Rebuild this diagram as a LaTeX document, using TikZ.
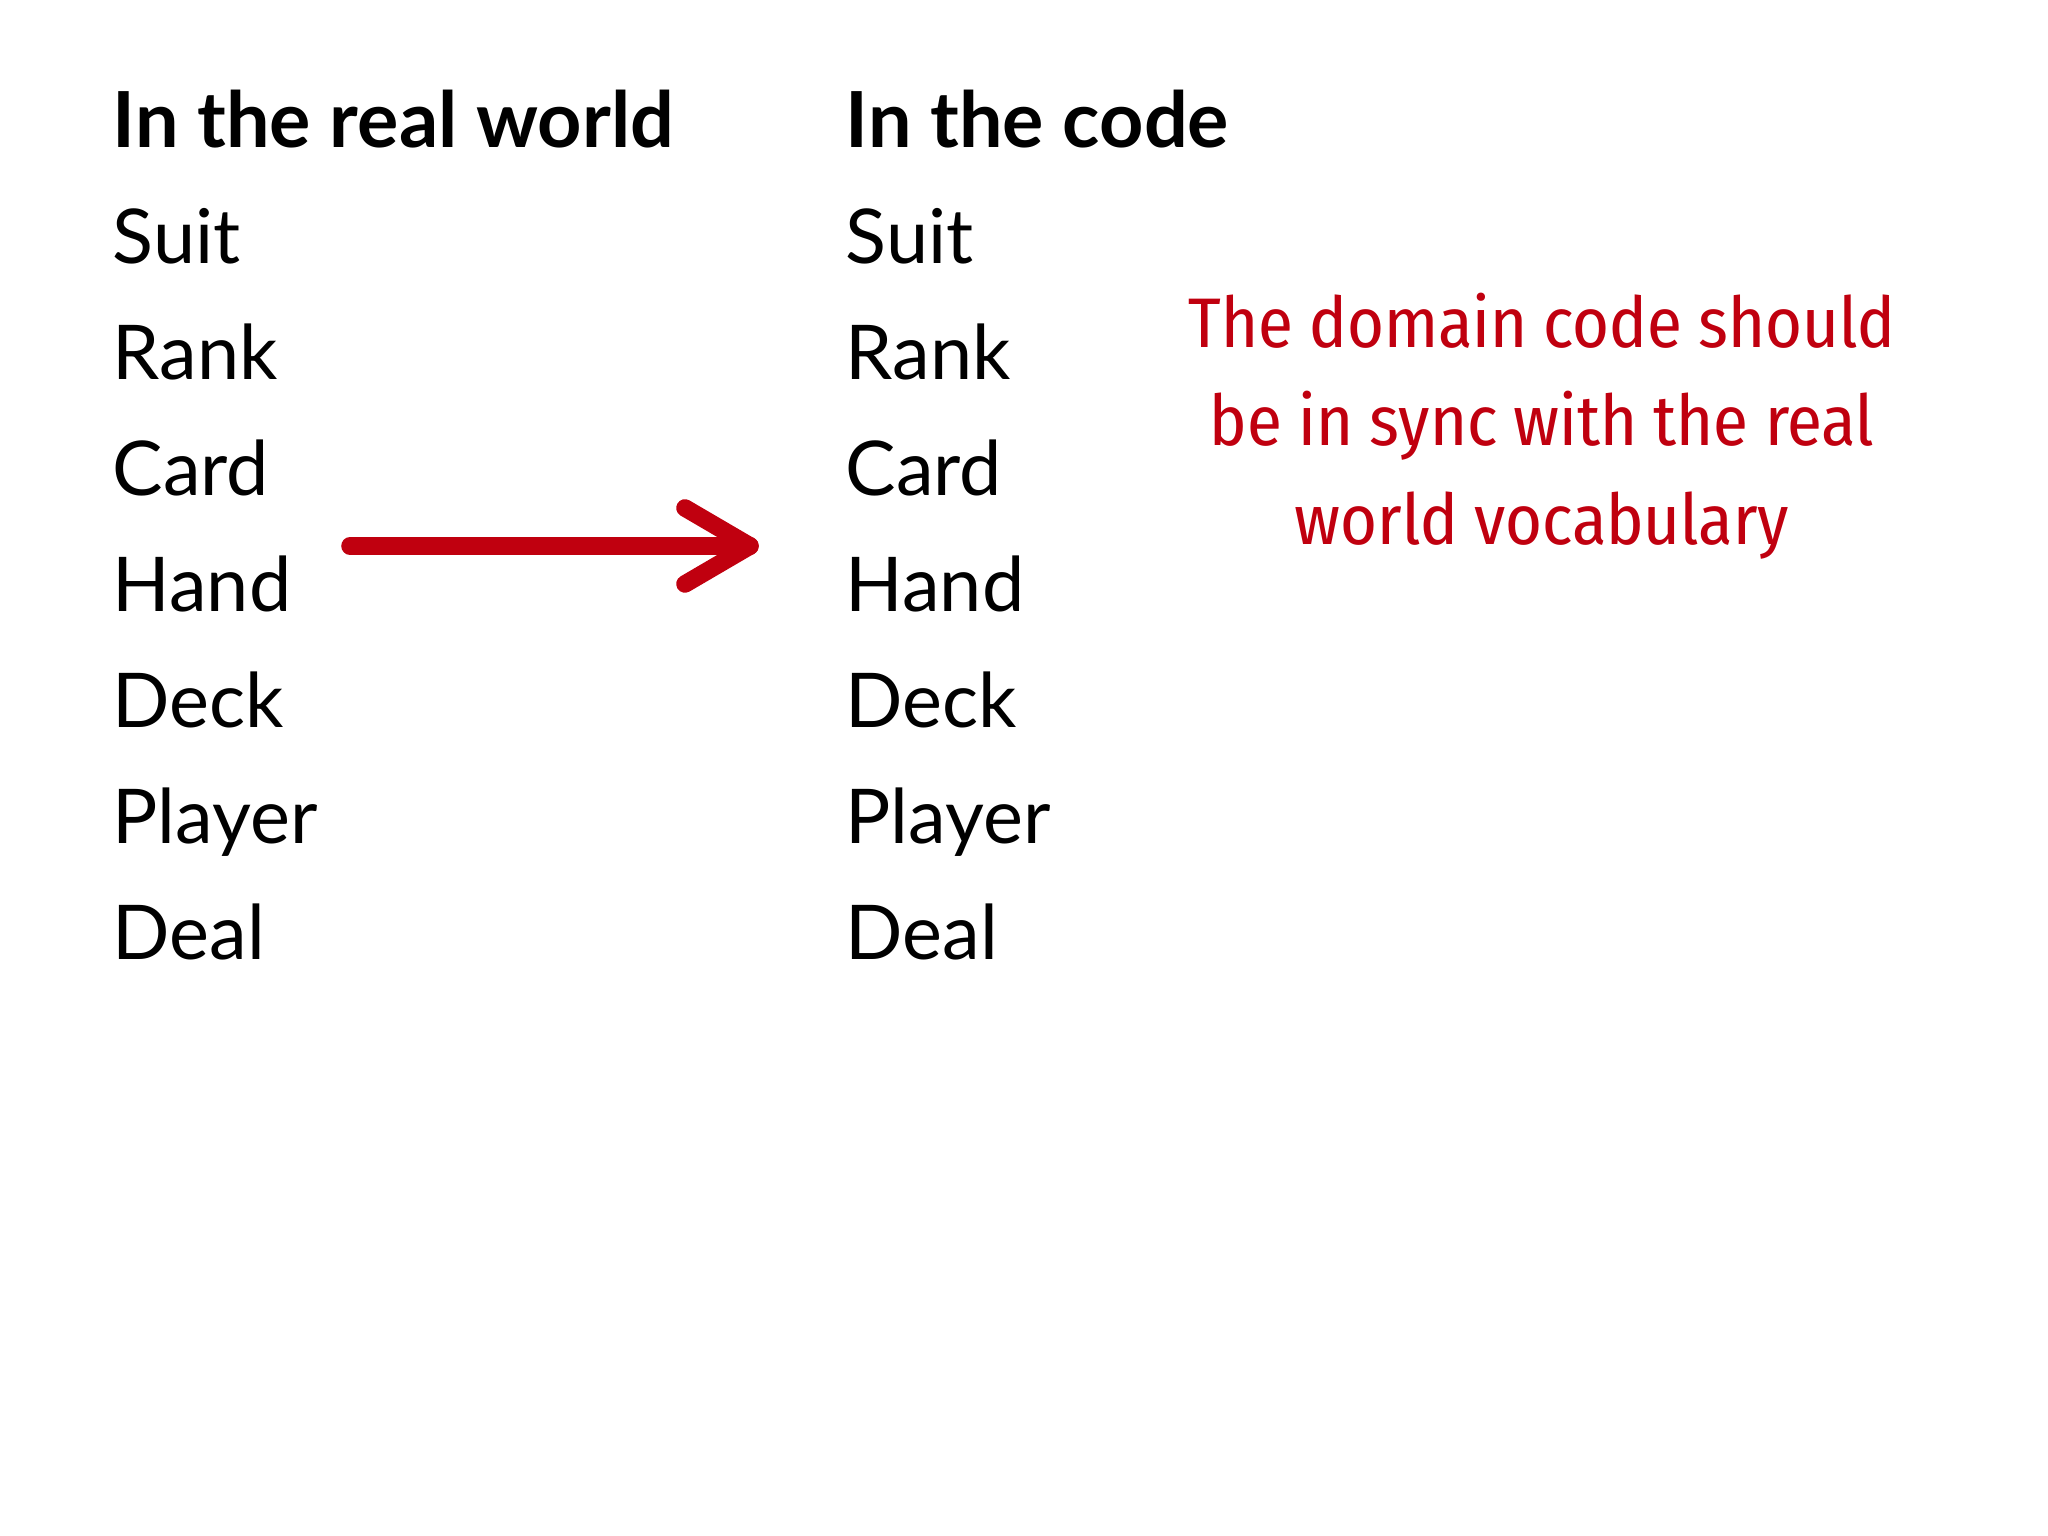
\documentclass[tikz,border=0pt]{standalone}
\usepackage{fontspec}
\usetikzlibrary{calc}
\setmainfont{Lato}
\newfontfamily\handfont{Fira Sans Condensed}
\definecolor{dred}{HTML}{C0000F}
\begin{document}
\begin{tikzpicture}
\useasboundingbox (0,0) rectangle (20.48,15.36);
\tikzset{item/.style={anchor=base west,inner sep=0pt,font=\fontsize{21.5}{26}\selectfont},
head/.style={item,font=\fontsize{22}{26}\selectfont\bfseries},
note/.style={align=center,text=dred,font=\handfont\fontsize{20}{28}\selectfont}}
\node[head] (h1) at (1.12,13.88) {In the real world};
\node[head] (h2) at (8.45,13.88) {In the code};
\foreach \w [count=\i] in {Suit,Rank,Card,Hand,Deck,Player,Deal}{
  \node[item] (l\i) at (1.12,{12.72-1.16*(\i-1)}) {\w};
  \node[item] (r\i) at (8.45,{12.72-1.16*(\i-1)}) {\w};
}
\coordinate (as) at (3.5,9.9);
\coordinate (ae) at (7.5,9.9);
\draw[dred,line width=5pt,line cap=round] (as) -- (ae);
\draw[dred,line width=5pt,line cap=round,line join=round] ($(ae)+(-0.65,0.38)$) -- (ae) -- ($(ae)+(-0.65,-0.38)$);
\node[note] (n) at (15.42,11.1) {The domain code should\\be in sync with the real\\world vocabulary};
\end{tikzpicture}
\end{document}
